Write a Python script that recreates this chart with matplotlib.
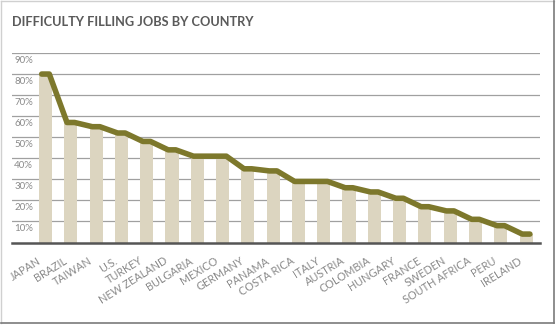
import matplotlib.pyplot as plt
import matplotlib.transforms as mtransforms
from matplotlib.lines import Line2D

countries = [
    "JAPAN", "BRAZIL", "TAIWAN", "U.S.", "TURKEY", "NEW ZEALAND", "BULGARIA",
    "MEXICO", "GERMANY", "PANAMA", "COSTA RICA", "ITALY", "AUSTRIA", "COLOMBIA",
    "HUNGARY", "FRANCE", "SWEDEN", "SOUTH AFRICA", "PERU", "IRELAND",
]
values = [80, 57, 55, 52, 48, 44, 41, 41, 35, 34, 29, 29, 26, 24, 21, 17, 15, 11, 8, 4]
y_ticks = [10, 20, 30, 40, 50, 60, 70, 80, 90]

BAR_COLOR = "#dcd5c0"
LINE_COLOR = "#7d782c"
GRID_COLOR = "#a0a0a0"
TEXT_COLOR = "#8a8a8a"

W, H = 559, 326
fig = plt.figure(figsize=(W / 100, H / 100), dpi=100)

# axes placed in pixel terms: x 12..540, y 53 (90%) .. 242.5 (0%)
left, right = 12 / W, 540 / W
bottom, top = (H - 242.5) / H, (H - 53) / H
ax = fig.add_axes([left, bottom, right - left, top - bottom])

x = list(range(len(countries)))
ax.bar(x, values, width=0.52, color=BAR_COLOR, zorder=2)

# line with a short plateau over each bar
half = 0.15
lx, ly = [], []
for i, v in zip(x, values):
    lx += [i - half, i + half]
    ly += [v, v]
ax.plot(lx, ly, color=LINE_COLOR, lw=4, solid_joinstyle="round",
        solid_capstyle="round", zorder=3)

ax.set_xlim(-1.324, 19.55)
ax.set_ylim(0, 90)

for t in y_ticks:
    ax.axhline(t, color=GRID_COLOR, lw=0.9, zorder=1)
    ax.text(0.004, t - 1.3, f"{t}%", transform=ax.get_yaxis_transform(),
            ha="left", va="top", fontsize=7, color=TEXT_COLOR, family="Lato")
ax.axhline(0, color="#555555", lw=1.8, zorder=4, clip_on=False)

for s in ax.spines.values():
    s.set_visible(False)
ax.set_yticks([])
ax.set_xticks(x)
ax.set_xticklabels(countries, rotation=32, ha="right", rotation_mode="anchor",
                   fontsize=7.8, color=TEXT_COLOR, family="Lato")
ax.tick_params(axis="x", length=0, pad=9)
shift = mtransforms.ScaledTranslation(-8 / 100, 0, fig.dpi_scale_trans)
for lab in ax.get_xticklabels():
    lab.set_transform(lab.get_transform() + shift)

fig.text(12 / W, 1 - 22 / H, "DIFFICULTY FILLING JOBS BY COUNTRY",
         fontsize=9.2, fontweight="bold", color="#5a5a5a", family="Lato",
         va="center", ha="left")

# picture frame
def px_line(x0, y0, x1, y1, color, lw):
    fig.add_artist(Line2D([x0 / W, x1 / W], [1 - y0 / H, 1 - y1 / H],
                          transform=fig.transFigure, color=color, lw=lw))

px_line(1, 1, 554, 1, "#d0d0d0", 1)
px_line(1, 1, 1, 323, "#d0d0d0", 1)
px_line(554, 1, 554, 323, "#7a7a7a", 1.2)
px_line(1, 323, 554, 323, "#7a7a7a", 1.2)

fig.savefig("out.png", dpi=100)
